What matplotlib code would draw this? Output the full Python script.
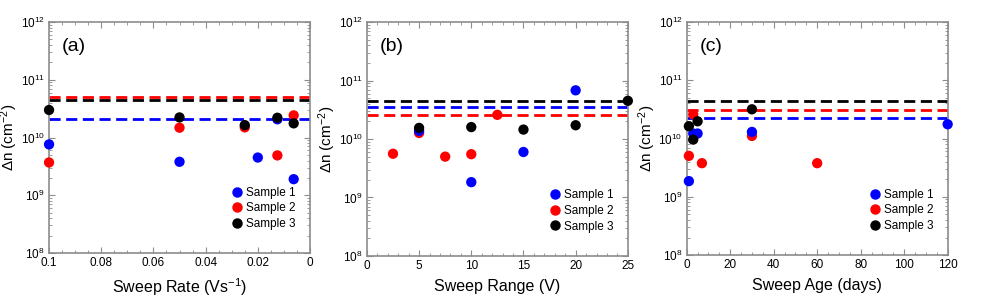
import matplotlib
matplotlib.use('Agg')
import matplotlib.pyplot as plt
from matplotlib.ticker import MultipleLocator, LogLocator, NullFormatter, FuncFormatter

plt.rcParams['font.family'] = ['Liberation Sans', 'DejaVu Sans']
plt.rcParams['mathtext.fontset'] = 'custom'
plt.rcParams['mathtext.rm'] = 'Liberation Sans'
plt.rcParams['mathtext.it'] = 'Liberation Sans'

colors = ['#0000ff', '#ff0000', '#000000']
labels = ['Sample 1', 'Sample 2', 'Sample 3']

# (a) sweep rate
rate_x = [
    [0.1, 0.05, 0.02, 0.0125, 0.00625],
    [0.1, 0.05, 0.025, 0.0125, 0.00625],
    [0.1, 0.05, 0.025, 0.0125, 0.00625],
]
rate_y = [
    [7.6e9, 3.8e9, 4.5e9, 2.07e10, 1.9e9],
    [3.7e9, 1.48e10, 1.5e10, 4.9e9, 2.42e10],
    [3.0e10, 2.23e10, 1.64e10, 2.2e10, 1.76e10],
]
rate_mean = [2.09e10, 5.07e10, 4.4e10]

# (b) sweep range
range_x = [
    [5, 10, 15, 20],
    [2.5, 5, 7.5, 10, 12.5],
    [5, 10, 15, 20, 25],
]
range_y = [
    [1.38e10, 1.83e9, 6.0e9, 6.8e10],
    [5.6e9, 1.27e10, 5.0e9, 5.5e9, 2.59e10],
    [1.55e10, 1.6e10, 1.45e10, 1.72e10, 4.5e10],
]
range_mean = [3.54e10, 2.59e10, 4.4e10]

# (c) sweep age
age_x = [
    [1, 3, 5, 30, 120],
    [1, 3, 7, 30, 60],
    [1, 3, 5, 30],
]
age_y = [
    [1.86e9, 1.22e10, 1.22e10, 1.3e10, 1.76e10],
    [5.05e9, 2.6e10, 3.78e9, 1.11e10, 3.78e9],
    [1.63e10, 9.6e9, 1.98e10, 3.18e10],
]
age_mean = [2.26e10, 3.06e10, 4.37e10]

panels = [
    ('(a)', 'Sweep Rate (Vs$^{-1}$)', rate_x, rate_y, rate_mean, (0.1, 0), 0.02, 0.005,
     [0.05, 0.151, 0.266, 0.775]),
    ('(b)', 'Sweep Range (V)', range_x, range_y, range_mean, (0, 25), 5, 1,
     [0.374, 0.141, 0.266, 0.785]),
    ('(c)', 'Sweep Age (days)', age_x, age_y, age_mean, (0, 120), 20, 5,
     [0.700, 0.144, 0.266, 0.782]),
]

fig = plt.figure(figsize=(9.81, 2.98), dpi=100)
spine_c = '#8c8c8c'


def xfmt(v, pos):
    if abs(v) < 1e-12:
        return '0'
    return ('%g' % v)


for tag, xlabel, xs, ys, means, xlim, major, minor, pos in panels:
    ax = fig.add_axes(pos)
    ax.set_yscale('log')
    ax.set_ylim(1e8, 1e12)
    ax.set_xlim(*xlim)
    for m, c in zip(means, colors):
        ax.axhline(m, color=c, lw=2, ls=(0, (4, 2)), zorder=2)
    for i in [1, 0, 2]:
        ax.scatter(xs[i], ys[i], s=55, color=colors[i], edgecolors='none',
                   zorder=3, clip_on=False)
    handles = [plt.Line2D([], [], marker='o', ls='none', color=c, markersize=6.5)
               for c in colors]
    ax.legend(handles, labels, loc='lower left', bbox_to_anchor=(0.67, 0.08),
              frameon=False, fontsize=8.5, handletextpad=0.0, labelspacing=0.3,
              borderaxespad=0.0, handlelength=1.5)
    ax.text(0.05, 0.93, tag, transform=ax.transAxes, fontsize=14, va='top')
    ax.set_xlabel(xlabel, fontsize=11.5, labelpad=5)
    ax.set_ylabel(r'$\Delta$n (cm$^{-2}$)', fontsize=11)
    ax.yaxis.set_label_coords(-0.11, 0.5)
    ax.xaxis.set_major_locator(MultipleLocator(major))
    ax.xaxis.set_minor_locator(MultipleLocator(minor))
    ax.xaxis.set_major_formatter(FuncFormatter(xfmt))
    ax.yaxis.set_major_locator(LogLocator(base=10, numticks=10))
    ax.yaxis.set_minor_locator(LogLocator(base=10, subs=range(2, 10), numticks=20))
    ax.yaxis.set_minor_formatter(NullFormatter())
    ax.tick_params(which='both', direction='in', top=True, right=True,
                   color=spine_c, labelsize=8.5, pad=3)
    ax.tick_params(which='major', length=4)
    ax.tick_params(which='minor', length=2)
    for s in ax.spines.values():
        s.set_color(spine_c)
        s.set_linewidth(1.2)

fig.savefig('out.png', dpi=100)
